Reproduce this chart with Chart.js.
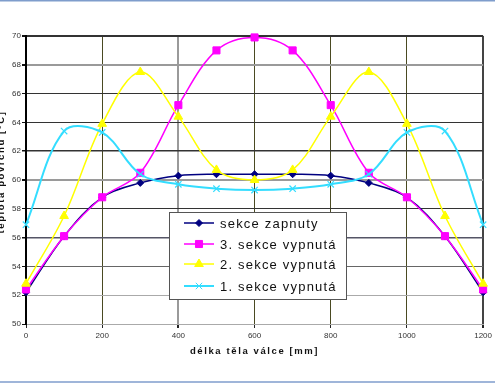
<!DOCTYPE html>
<html>
<head>
<meta charset="utf-8">
<script src="https://cdn.jsdelivr.net/npm/chart.js@4.4.0/dist/chart.umd.min.js"></script>
<style>
html,body{margin:0;padding:0;background:#fff;}
canvas{display:block;}
</style>
</head>
<body>
<canvas id="c" width="495" height="383"></canvas>
<script>
const positions = [0,100,200,300,400,500,600,700,800,900,1000,1100,1200];
const seriesNames = ["sekce zapnuty","3. sekce vypnutá","2. sekce vypnutá","1. sekce vypnutá"];
const sekceZapnuty = [52.2,56.1,58.8,59.8,60.3,60.4,60.4,60.4,60.3,59.8,58.8,56.1,52.2];
const sekce3Vypnuta = [52.4,56.1,58.8,60.5,65.2,69.0,69.9,69.0,65.2,60.5,58.8,56.1,52.4];
const sekce2Vypnuta = [52.8,57.5,63.9,67.5,64.4,60.7,60.0,60.7,64.4,67.5,63.9,57.5,52.8];
const sekce1Vypnuta = [56.9,63.4,63.3,60.4,59.7,59.4,59.3,59.4,59.7,60.4,63.3,63.4,56.9];
const xTitle = "délka těla válce [mm]";
const yTitle = "teplota povrchu [°C]";

const colors = ["#000080","#ff00ff","#ffff00","#33ddff"];
const styles = ["rectRot","rect","triangle","crossRot"];
const radii = [3.5,5,5,4.5];
const allSeries = [sekceZapnuty,sekce3Vypnuta,sekce2Vypnuta,sekce1Vypnuta];

const datasets = allSeries.map((s,i)=>({
  label: seriesNames[i],
  data: positions.map((p,j)=>({x:p,y:s[j]})),
  borderColor: colors[i],
  backgroundColor: colors[i],
  borderWidth: i===3?2:1.5,
  pointStyle: styles[i],
  pointRadius: radii[i],
  pointBorderWidth: i===3?1.2:1,
  pointBackgroundColor: colors[i],
  pointBorderColor: colors[i],
  tension: 0.35,
  clip: false,
  order: 3-i
}));

const yGrid = {70:['#333',2],68:['#9a9a9a',2],66:['#333',1],64:['#333',1],62:['#333',1.5],60:['#9a9a9a',2],58:['#333',1],56:['#556',1.5],54:['#666',1],52:['#aaa',1],50:['#aaa',1]};
const xGrid = {0:['rgba(0,0,0,0)',1],200:['#4a4a22',1],400:['#9a9a9a',2],600:['#4a4a22',1],800:['#4a4a22',1],1000:['#4a4a22',1],1200:['#444',2]};

const deco = {
  id:'deco',
  beforeDraw(chart){
    const ctx = chart.ctx;
    ctx.save();
    ctx.fillStyle='#fff';
    ctx.fillRect(0,0,chart.width,chart.height);
    ctx.strokeStyle='#7f9dcc';
    ctx.lineWidth=1.5;
    ctx.beginPath();ctx.moveTo(0,0.75);ctx.lineTo(chart.width,0.75);ctx.stroke();
    ctx.beginPath();ctx.moveTo(0,382);ctx.lineTo(chart.width,382);ctx.stroke();
    ctx.restore();
  },
  afterDraw(chart){
    const ctx = chart.ctx;
    const a = chart.chartArea;
    ctx.save();
    // titles
    ctx.fillStyle='#111';
    ctx.font='bold 9.5px "Liberation Sans", Arial, sans-serif';
    ctx.letterSpacing='1.6px';
    ctx.textAlign='center';
    ctx.textBaseline='middle';
    ctx.fillText(xTitle, (a.left+a.right)/2, 351);
    ctx.save();
    ctx.translate(1,172);
    ctx.rotate(-Math.PI/2);
    ctx.fillText(yTitle,0,0);
    ctx.restore();
    // legend
    const bx=169, by=212, bw=177, bh=87;
    ctx.fillStyle='#fff';
    ctx.fillRect(bx,by,bw,bh);
    ctx.strokeStyle='#555';
    ctx.lineWidth=1;
    ctx.strokeRect(bx+0.5,by+0.5,bw,bh);
    const rows=[223,244,264,286];
    ctx.font='13px "Liberation Sans", Arial, sans-serif';
    ctx.letterSpacing='1.2px';
    ctx.textAlign='left';
    for(let i=0;i<4;i++){
      const y=rows[i];
      ctx.strokeStyle=colors[i];
      ctx.lineWidth=i===3?2:1.5;
      ctx.beginPath();ctx.moveTo(184,y);ctx.lineTo(214,y);ctx.stroke();
      ctx.fillStyle=colors[i];
      ctx.lineWidth=1;
      Chart.helpers.drawPoint(ctx,{pointStyle:styles[i],radius:radii[i],rotation:0,borderWidth:1},199,y);
      ctx.fillStyle='#111';
      ctx.fillText(seriesNames[i],220,y+1);
    }
    ctx.restore();
  }
};

new Chart(document.getElementById('c'),{
  type:'line',
  data:{datasets},
  plugins:[deco],
  options:{
    responsive:false,
    animation:false,
    layout:{padding:{left:0,top:36,right:11,bottom:0}},
    plugins:{legend:{display:false},tooltip:{enabled:false}},
    scales:{
      x:{
        type:'linear',min:0,max:1200,
        afterFit(s){s.height=59;},
        ticks:{stepSize:200,color:'#333',font:{size:8,family:'"Liberation Sans", Arial, sans-serif'},padding:3,maxRotation:0,callback:(v)=>String(v)},
        grid:{
          color:(c)=>(xGrid[c.tick.value]||['#444',1])[0],
          lineWidth:(c)=>(xGrid[c.tick.value]||['#444',1])[1],
          tickColor:'#222',tickLength:4
        },
        border:{display:true,color:'#aaa',width:1}
      },
      y:{
        min:50,max:70,
        afterFit(s){s.width=26;},
        ticks:{stepSize:2,color:'#333',font:{size:8,family:'"Liberation Sans", Arial, sans-serif'},padding:1,callback:(v)=>String(v)},
        grid:{
          color:(c)=>(yGrid[c.tick.value]||['#444',1])[0],
          lineWidth:(c)=>(yGrid[c.tick.value]||['#444',1])[1],
          tickColor:'#111',tickLength:4
        },
        border:{display:true,color:'#000',width:2}
      }
    }
  }
});
</script>
</body>
</html>
